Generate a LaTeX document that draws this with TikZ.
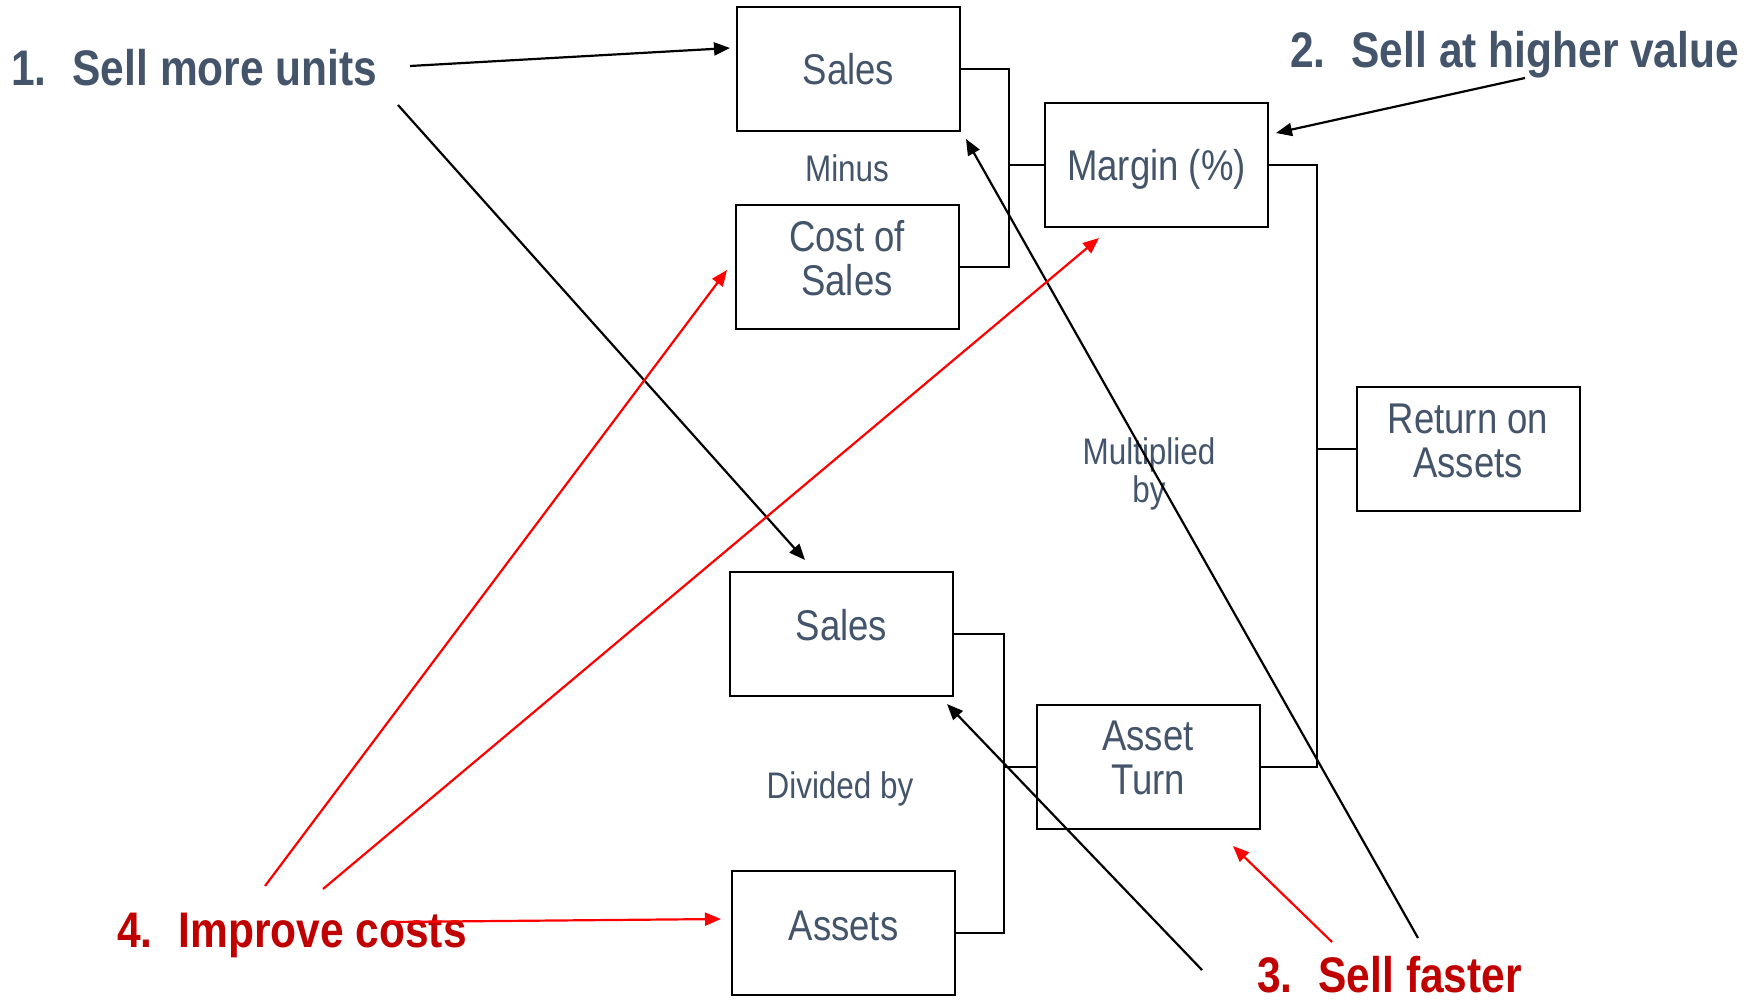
\documentclass[tikz,border=0pt]{standalone}
\usepackage{fontspec}
\newfontfamily\arl{Liberation Sans}[FakeStretch=0.85]
\usetikzlibrary{arrows.meta}
\definecolor{slate}{HTML}{44546A}
\definecolor{dred}{HTML}{C00000}
\definecolor{lred}{HTML}{FF0000}
\tikzset{
 box/.style={draw=black, line width=2pt, minimum width=223pt, minimum height=124pt, inner sep=0pt},
 boxtxt/.style={text=slate, font=\arl\fontsize{43}{44}\selectfont, align=center, inner sep=0pt},
 optxt/.style={text=slate, font=\arl\fontsize{37}{38}\selectfont, align=center, inner sep=0pt},
 tiptxt/.style={text=slate, font=\arl\bfseries\fontsize{50}{50}\selectfont, inner sep=0pt, anchor=base west},
 rtiptxt/.style={tiptxt, text=dred},
 link/.style={line width=2pt},
 barr/.style={line width=2.2pt, -{Triangle[length=16pt,width=13pt]}},
 rarr/.style={line width=2.2pt, draw=lred, -{Triangle[length=16pt,width=13pt]}},
}
\begin{document}
\begin{tikzpicture}[x=1pt,y=-1pt]
\useasboundingbox[fill=white] (0,0) rectangle (1758,1000);
% boxes
\node[box] (sT)  at (848.5,69) {};
\node[box] (cos) at (847,267) {};
\node[box] (mar) at (1156.5,165.5) {};
\node[box] (roa) at (1468,448.5) {};
\node[box] (sB)  at (841.5,633.5) {};
\node[box] (at)  at (1148,766.5) {};
\node[box] (as)  at (843.5,933) {};
% box texts
\node[boxtxt] (sTt)  at (sT.center) {Sales};
\node[boxtxt] (cost) at ([yshift=9pt]cos.center) {Cost of\\Sales};
\node[boxtxt] (mart) at ([yshift=-3.5pt]mar.center) {Margin (\%)};
\node[boxtxt] (roat) at ([yshift=8pt]roa.center) {Return on\\Assets};
\node[boxtxt] (sBt)  at ([yshift=8pt]sB.center) {Sales};
\node[boxtxt] (att)  at ([yshift=8.5pt]at.center) {Asset\\Turn};
\node[boxtxt] (ast)  at ([yshift=7pt]as.center) {Assets};
% operation labels
\node[optxt] (minus) at (847,168) {Minus};
\node[optxt] (mult) at (1149,473.5) {Multiplied\\by};
\node[optxt] (div) at (840,788.5) {Divided by};
% brackets
\draw[link] (sT.east) -- ++(48,0) coordinate (j1) |- (cos.east);
\draw[link] (mar.west) -- (mar.west -| j1);
\draw[link] (mar.east) -- ++(48,0) coordinate (j2) |- (at.east);
\draw[link] (roa.west) -- (roa.west -| j2);
\draw[link] (sB.east) -- ++(50,0) coordinate (j3) |- (as.east);
\draw[link] (at.west) -- (at.west -| j3);
% tip texts
\node[tiptxt] (t1) at (11,86) {1.\hspace{26pt}Sell more units};
\node[tiptxt] (t2) at (1290,68) {2.\hspace{26pt}Sell at higher value};
\node[rtiptxt] (t3) at (1257,992) {3.\hspace{26pt}Sell faster};
\node[rtiptxt] (t4) at (117,947) {4.\hspace{26pt}Improve costs};
% arrow endpoints
\coordinate (a1s) at (410,66);   \coordinate (a1e) at (730,48);
\coordinate (a2s) at (398,105);  \coordinate (a2e) at (805,560);
\coordinate (a3s) at (1525,78);  \coordinate (a3e) at (1276,133);
\coordinate (a4s) at (1202,970); \coordinate (a4e) at (947,704);
\coordinate (a5s) at (1418,938); \coordinate (a5e) at (966,139);
\coordinate (a6s) at (265,886);  \coordinate (a6e) at (727,270);
\coordinate (a7s) at (323,889);  \coordinate (a7e) at (1099,238);
\coordinate (a8s) at (390,922);  \coordinate (a8e) at (721,919);
\coordinate (a9s) at (1332,942); \coordinate (a9e) at (1233,846);
% arrows
\draw[barr] (a1s) -- (a1e);
\draw[barr] (a2s) -- (a2e);
\draw[barr] (a3s) -- (a3e);
\draw[barr] (a4s) -- (a4e);
\draw[barr] (a5s) -- (a5e);
\draw[rarr] (a6s) -- (a6e);
\draw[rarr] (a7s) -- (a7e);
\draw[rarr] (a8s) -- (a8e);
\draw[rarr] (a9s) -- (a9e);
\end{tikzpicture}
\end{document}
